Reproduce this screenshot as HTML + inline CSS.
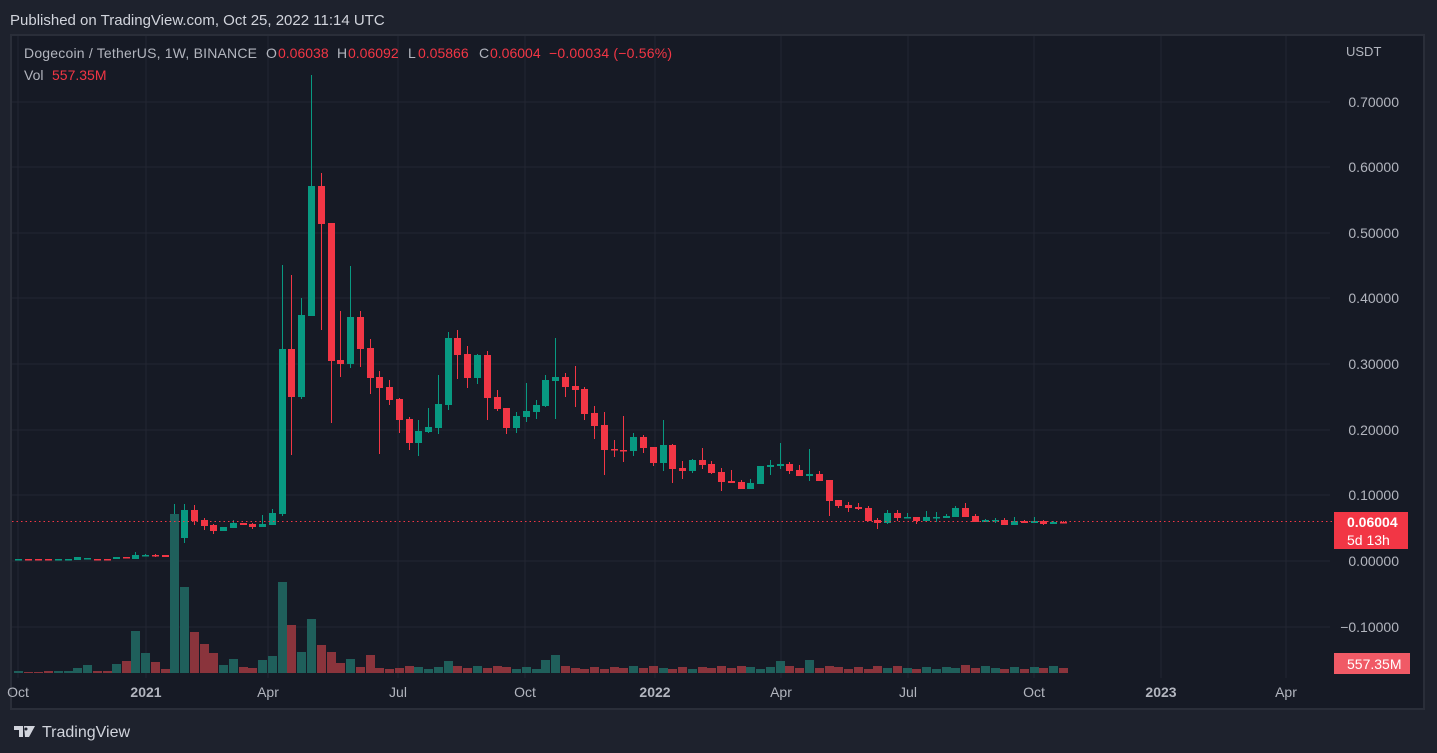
<!DOCTYPE html>
<html><head><meta charset="utf-8"><style>
body{margin:0;width:1437px;height:753px;background:#1e222d;overflow:hidden;font-family:"Liberation Sans",sans-serif}
svg{position:absolute;left:0;top:0}
</style></head><body>
<svg id="s" width="1437" height="753" xmlns="http://www.w3.org/2000/svg"></svg>
<script>
const G='#089981',R='#f23645',VG='#1f5f5b',VR='#8a343c';
let h='';
h+='<rect x="11" y="35" width="1413" height="674" fill="#161a25" stroke="#2a2e39" stroke-width="2"/>';
const gy=[102,167,233,298,364,430,495,561,627];
gy.forEach(y=>h+=`<line x1="12" x2="1330" y1="${y}" y2="${y}" stroke="#232632"/>`);
const gx=[18,146,268,398,525,655,781,908,1034,1161,1286];
gx.forEach(x=>h+=`<line x1="${x}" x2="${x}" y1="36" y2="678" stroke="#232632"/>`);
const C=[[18,560,559],[28,559,560],[38,559,560],[48,559,560],[58,560,559],[68,560,559],[77,560,557],[87,559,558],[97,559,560],[107,559,560],[116,559,557],[126,557,558],
[135,559,555,552,559],[145,556,555,554,556],[155,555,556,554,557],[165,555,557],
[174,557,537,504,557],[184,538,510,504,543],[194,510,521,505,525],[204,520,526,518,530],[213,525,531,524,534],[223,531,527],[233,528,523,520,528],[243,523,525],[252,524,527,523,529],[262,527,524,515,527],[272,525,513,509,525],
[282,514,349,265,516],[291,349,397,275,455],[301,397,315,298,399],[311,316,186,75,316],[321,186,224,173,330],[331,223,361,223,423],[340,360,364,311,377],[350,364,317,266,368],[360,317,349,311,367],[370,348,378,339,394],[379,377,388,371,454],[389,387,400,380,405],
[399,399,420,398,433],[409,419,443,417,450],[418,443,431,420,456],[428,432,427,408,433],[438,428,404,375,434],[448,405,338,332,410],[457,338,355,330,379],[467,354,378,346,388],[477,378,355,354,384],[487,355,398,351,420],[497,397,409,390,411],[506,408,428,408,434],[516,428,416,412,433],[526,417,411,383,422],[536,412,405,400,419],[545,406,380,375,407],[555,381,377,338,419],[565,377,387,373,397],[575,386,390,366,407],[584,389,414,387,420],[594,413,426,406,439],[604,425,450,412,475],[614,449,450,440,457],[623,450,451,416,462],[633,451,437,433,456],[643,437,448,435,453],[653,447,463,447,466],[663,463,445,420,471],[672,445,469,444,483],[682,468,471,461,479],[692,471,460,459,473],[702,460,465,448,469],
[711,464,473,461,474],[721,472,482,468,491],[731,481,483,470,483],[741,482,489,480,489],[750,489,483,479,489],[760,484,466,466,484],[770,467,465,460,475],[780,466,464,443,469],[789,464,471,462,474],[799,470,476,465,476],[809,476,474,449,481],[819,474,481,471,481],[829,480,501,480,516],[838,500,506,500,508],[848,505,508,502,512],[858,507,509,503,510],[868,508,521,506,521],[877,520,523,518,529],[887,523,513,510,524],[897,513,518,510,521],[907,518,517,513,518],[916,517,521,517,524],[926,521,517,511,521],[936,518,517,512,522],[946,518,516,514,518],[955,517,508,506,517],[965,508,517,503,517],[975,516,522,514,522],[985,522,520,519,522],[995,521,520,518,523],[1004,520,525,518,525],[1014,525,521,517,525],[1024,521,523,520,523],[1034,523,521,517,523],[1043,521,524,520,525],[1053,524,522,521,524],[1063,522,523,521,523]];
const V={18:671,28:672,38:672,48:671,58:671,68:671,77:668,87:665,97:671,107:671,116:664,126:661,135:631,145:653,155:662,165:669,174:514,184:587,194:632,204:644,213:653,223:665,233:659,243:667,252:668,262:660,272:656,282:582,291:625,301:652,311:619,321:645,331:652,340:663,350:659,360:667,370:655,379:668,389:669,448:661,545:660,555:655,780:661,809:660,965:665,874:666};
C.forEach(c=>{let [x,o,cl,hi,lo]=c;if(hi===undefined){hi=Math.min(o,cl);lo=Math.max(o,cl);}
const col=(cl<o)?G:R;
h+=`<line x1="${x+.5}" x2="${x+.5}" y1="${hi}" y2="${lo}" stroke="${col}"/>`;
const t=Math.min(o,cl),b=Math.max(o,cl);h+=`<rect x="${x-3}" y="${t}" width="7" height="${Math.max(b-t,1.5)}" fill="${col}"/>`;
let vt=V[x]!==undefined?V[x]:(x>390?669-((x*7)%4):670);
h+=`<rect x="${x-4}" y="${vt}" width="9" height="${673-vt}" fill="${cl<o?VG:VR}"/>`;});
h+='<line x1="12" x2="1334" y1="521.5" y2="521.5" stroke="#f23645" stroke-dasharray="1.5 3"/>';
const pl=[['0.70000',102],['0.60000',167],['0.50000',233],['0.40000',298],['0.30000',364],['0.20000',430],['0.10000',495],['0.00000',561],['\u22120.10000',627]];
pl.forEach(p=>h+=`<text x="1399" y="${p[1]+5}" fill="#b2b5be" font-size="14" text-anchor="end">${p[0]}</text>`);
h+='<text x="1346" y="56" fill="#b2b5be" font-size="13">USDT</text>';
h+='<rect x="1334" y="512" width="74" height="37" fill="#f23645"/><text x="1347" y="527" fill="#fff" font-size="14" font-weight="bold">0.06004</text><text x="1347" y="545" fill="#fff" font-size="14">5d 13h</text>';
h+='<rect x="1334" y="653" width="76" height="21" fill="#f05a66"/><text x="1347" y="669" fill="#fff" font-size="14">557.35M</text>';
const tl=[['Oct',18,0],['2021',146,1],['Apr',268,0],['Jul',398,0],['Oct',525,0],['2022',655,1],['Apr',781,0],['Jul',908,0],['Oct',1034,0],['2023',1161,1],['Apr',1286,0]];
tl.forEach(t=>h+=`<text x="${t[1]}" y="697" fill="#b2b5be" font-size="14" text-anchor="middle" ${t[2]?'font-weight="bold"':''}>${t[0]}</text>`);
h+='<text x="10" y="25" fill="#d1d4dc" font-size="15">Published on TradingView.com, Oct 25, 2022 11:14 UTC</text>';
const L=[['Dogecoin / TetherUS, 1W, BINANCE',24,'#b2b5be',233],['O',266,'#b2b5be'],['0.06038',278,R],['H',337,'#b2b5be'],['0.06092',348,R],['L',408,'#b2b5be'],['0.05866',418,R],['C',479,'#b2b5be'],['0.06004',490,R],['\u22120.00034 (\u22120.56%)',549,R,123]];
L.forEach(t=>h+=`<text x="${t[1]}" y="58" fill="${t[2]}" font-size="14" ${t[3]?`textLength="${t[3]}"`:''}>${t[0]}</text>`);
h+='<text x="24" y="80" fill="#b2b5be" font-size="14">Vol</text><text x="52" y="80" fill="#f23645" font-size="14">557.35M</text>';
h+='<path d="M14 726h9v11h-4v-7h-5zM24 726h11l-6 11h-4z" fill="#d1d4dc"/><circle cx="26" cy="729" r="1.5" fill="#1e222d"/>';
h+='<text x="42" y="737" fill="#d1d4dc" font-size="16">TradingView</text>';
document.getElementById('s').innerHTML=h;
</script>
</body></html>
